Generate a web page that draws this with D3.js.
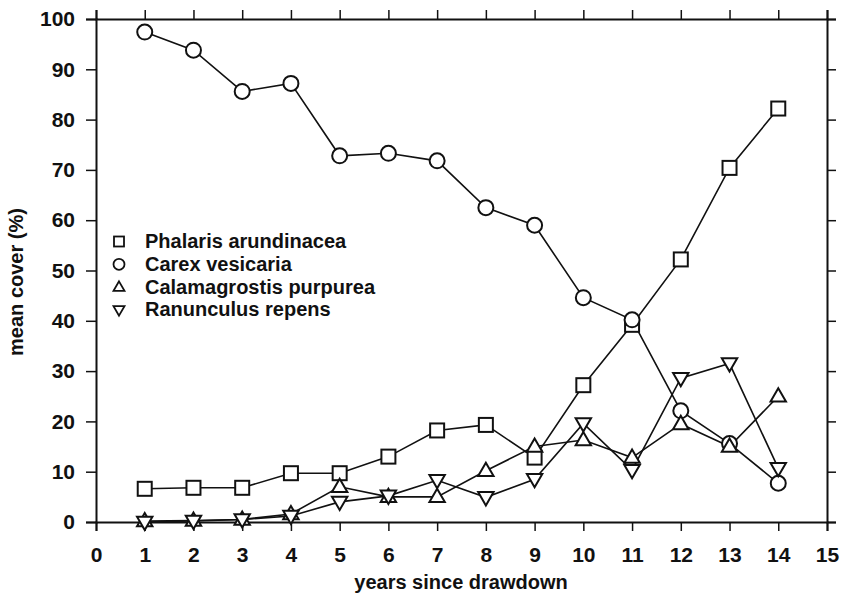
<!DOCTYPE html>
<html>
<head>
<meta charset="utf-8">
<script src="https://cdn.jsdelivr.net/npm/d3@7"></script>
<style>
  body { margin: 0; background: #fff; }
  svg text { font-family: "Liberation Sans", Arial, sans-serif; font-weight: bold; fill: #111; }
</style>
</head>
<body>
<div id="chart"></div>
<script>
var years = [1, 2, 3, 4, 5, 6, 7, 8, 9, 10, 11, 12, 13, 14];
var phalaris = [6.6, 6.8, 6.8, 9.7, 9.7, 13.0, 18.2, 19.3, 12.8, 27.2, 39.2, 52.2, 70.4, 82.2];
var carex = [97.4, 93.8, 85.6, 87.2, 72.8, 73.3, 71.8, 62.5, 59.0, 44.6, 40.2, 22.1, 15.6, 7.7];
var calamagrostis = [0.2, 0.3, 0.5, 1.6, 7.0, 5.0, 5.0, 10.2, 15.0, 16.3, 12.8, 19.5, 15.0, 25.0];
var ranunculus = [0.0, 0.2, 0.5, 1.2, 4.0, 5.2, 8.3, 4.9, 8.5, 19.6, 10.3, 28.6, 31.5, 10.7];
var xTicks = d3.range(0, 16);
var yTicks = d3.range(0, 101, 10);

var series = [
  { name: "Phalaris arundinacea", values: phalaris, shape: "square" },
  { name: "Carex vesicaria", values: carex, shape: "circle" },
  { name: "Calamagrostis purpurea", values: calamagrostis, shape: "up" },
  { name: "Ranunculus repens", values: ranunculus, shape: "down" }
];

(function() {
  var width = 844, height = 596;
  var pl = 96, pr = 827, pt = 19, pb = 522;

  var svg = d3.select('#chart').append('svg')
    .attr('width', width)
    .attr('height', height);

  var x = d3.scaleLinear().domain([0, 15]).range([pl, pr]);
  var y = d3.scaleLinear().domain([0, 100]).range([pb, pt]);

  function marker(sel, shape, s) {
    if (shape === "square") {
      sel.append('rect').attr('x', -s).attr('y', -s).attr('width', 2 * s).attr('height', 2 * s);
    } else if (shape === "circle") {
      sel.append('circle').attr('r', s + 0.5);
    } else if (shape === "up") {
      sel.append('path').attr('d', 'M0,' + (-s * 1.15) + 'L' + (s * 1.1) + ',' + (s * 0.75) + 'L' + (-s * 1.1) + ',' + (s * 0.75) + 'Z');
    } else {
      sel.append('path').attr('d', 'M0,' + (s * 1.15) + 'L' + (s * 1.1) + ',' + (-s * 0.75) + 'L' + (-s * 1.1) + ',' + (-s * 0.75) + 'Z');
    }
  }

  // axes, ticks all pointing out
  svg.append('g').attr('transform', 'translate(0,' + pb + ')')
    .call(d3.axisBottom(x).tickValues(xTicks).tickSize(9).tickPadding(16).tickFormat(d3.format('d')));
  svg.append('g').attr('transform', 'translate(0,' + pt + ')')
    .call(d3.axisTop(x).tickValues(xTicks).tickSize(9).tickFormat(''));
  svg.append('g').attr('transform', 'translate(' + pl + ',0)')
    .call(d3.axisLeft(y).tickValues(yTicks).tickSize(10).tickPadding(11));
  svg.append('g').attr('transform', 'translate(' + pr + ',0)')
    .call(d3.axisRight(y).tickValues(yTicks).tickSize(9).tickFormat(''));

  svg.selectAll('.domain').attr('stroke', '#111').attr('stroke-width', 2);
  svg.selectAll('.tick line').attr('stroke', '#111').attr('stroke-width', 1.5);
  svg.selectAll('.tick text').style('font-size', '21px');

  var line = d3.line()
    .x(function(d, i) { return x(years[i]); })
    .y(function(d) { return y(d); });

  series.forEach(function(s) {
    svg.append('path')
      .attr('d', line(s.values))
      .attr('fill', 'none')
      .attr('stroke', '#111')
      .attr('stroke-width', 1.6);
  });

  series.forEach(function(s) {
    var pts = svg.append('g').selectAll('g').data(s.values).enter()
      .append('g')
      .attr('transform', function(d, i) { return 'translate(' + x(years[i]) + ',' + y(d) + ')'; });
    pts.each(function() { marker(d3.select(this), s.shape, 7); });
    pts.selectAll('*').attr('fill', '#fff').attr('stroke', '#111').attr('stroke-width', 2);
  });

  // legend
  var legend = svg.append('g');
  series.forEach(function(s, i) {
    var g = legend.append('g').attr('transform', 'translate(119,' + (241.5 + i * 22.8) + ')');
    marker(g, s.shape, 5);
    g.selectAll('*').attr('fill', '#fff').attr('stroke', '#111').attr('stroke-width', 1.8);
    g.append('text').attr('x', 26).attr('y', 6.5).style('font-size', '20px').text(s.name);
  });

  // axis titles
  svg.append('text')
    .attr('x', 461)
    .attr('y', 589)
    .attr('text-anchor', 'middle')
    .style('font-size', '20px')
    .text('years since drawdown');

  svg.append('text')
    .attr('transform', 'translate(23,282) rotate(-90)')
    .attr('text-anchor', 'middle')
    .style('font-size', '20px')
    .text('mean cover (%)');
})();
</script>
</body>
</html>
